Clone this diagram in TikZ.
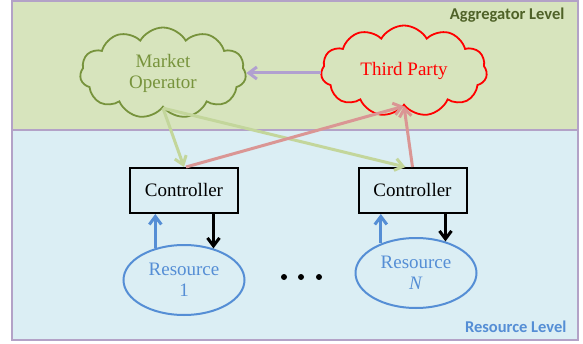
\documentclass[tikz,border=0pt]{standalone}
\usepackage{fontspec}
\setmainfont{Liberation Serif}
\newfontfamily\levelfont{Carlito}
\usepackage{tikz}
\usepackage{xcolor}
\usetikzlibrary{shapes.symbols,shapes.geometric,arrows.meta}
\definecolor{agg-fill}{HTML}{D7E4BD}
\definecolor{res-fill}{HTML}{DBEEF4}
\definecolor{frame-purple}{HTML}{B3A2C7}
\definecolor{market-green}{HTML}{77933C}
\definecolor{agg-text}{HTML}{4F6228}
\definecolor{res-blue}{HTML}{558ED5}
\definecolor{link-green}{HTML}{C3D69B}
\definecolor{link-red}{HTML}{DA9694}
\definecolor{link-purple}{HTML}{B1A0D0}
\tikzset{
    cloud-node/.style = {cloud, cloud puffs=11, cloud puff arc=120, cloud ignores aspect, draw, line width=1.8pt, minimum width=166pt, minimum height=91pt, inner sep=0pt, align=center, font=\fontsize{19}{21}\selectfont},
    ctrl-box/.style = {draw=black, line width=2pt, rectangle, minimum width=108pt, minimum height=45pt, font=\fontsize{19}{21}\selectfont},
    res-node/.style = {draw=res-blue, text=res-blue, line width=2pt, ellipse, minimum width=121pt, minimum height=70pt, inner sep=0pt, align=center, font=\fontsize{19}{21}\selectfont},
    level-label/.style = {anchor=east, font=\levelfont\bfseries\fontsize{16.5}{18}\selectfont},
    link/.style = {line width=3pt, -{Straight Barb[length=8pt,width=12pt]}},
}
\begin{document}
\begin{tikzpicture}[x=1pt,y=1pt]
\fill[white] (0,0) rectangle (583,343);
\useasboundingbox (0,0) rectangle (583,343);
\fill[agg-fill] (12,213) rectangle (578,342);
\fill[res-fill] (12,3) rectangle (578,213);
\draw[frame-purple, line width=2pt] (12,3) rectangle (578,342);
\draw[frame-purple, line width=2pt] (12,213) -- (578,213);
\node[level-label, text=agg-text] (agg-label) at (568,327.5) {Aggregator Level};
\node[level-label, text=res-blue] (res-label) at (570,16.5) {Resource Level};
\node[cloud-node, draw=market-green, text=market-green] (market) at (163,270) {Market\\Operator};
\node[cloud-node, draw=red, text=red] (third) at (404,272) {Third Party};
\node[ctrl-box] (ctrl-1) at (184,152.5) {Controller};
\node[ctrl-box] (ctrl-n) at (412.5,152.5) {Controller};
\node[res-node] (res-1) at (184,63) {Resource\\1};
\node[res-node] (res-n) at (416,70) {Resource\\\textit{N}};
\foreach \x in {284,301,319}
    \fill (\x,66) circle (3pt);
\draw[link, draw=link-purple] (third.west |- market.east) -- (market.east);
\draw[link, draw=link-green] (market.south) -- (ctrl-1.north);
\draw[link, draw=link-green] (market.south) -- ([xshift=-7pt]ctrl-n.north);
\draw[link, draw=link-red] ([xshift=2pt]ctrl-1.north) -- (third.south);
\draw[link, draw=link-red] (ctrl-n.north) -- (third.south);
\draw[link, draw=res-blue] (res-1.132) -- (res-1.132 |- ctrl-1.south);
\draw[link] (ctrl-1.south -| res-1.47) -- (res-1.47);
\draw[link, draw=res-blue] (res-n.140) -- (res-n.140 |- ctrl-n.south);
\draw[link] (ctrl-n.south -| res-n.47) -- (res-n.47);
\end{tikzpicture}
\end{document}
